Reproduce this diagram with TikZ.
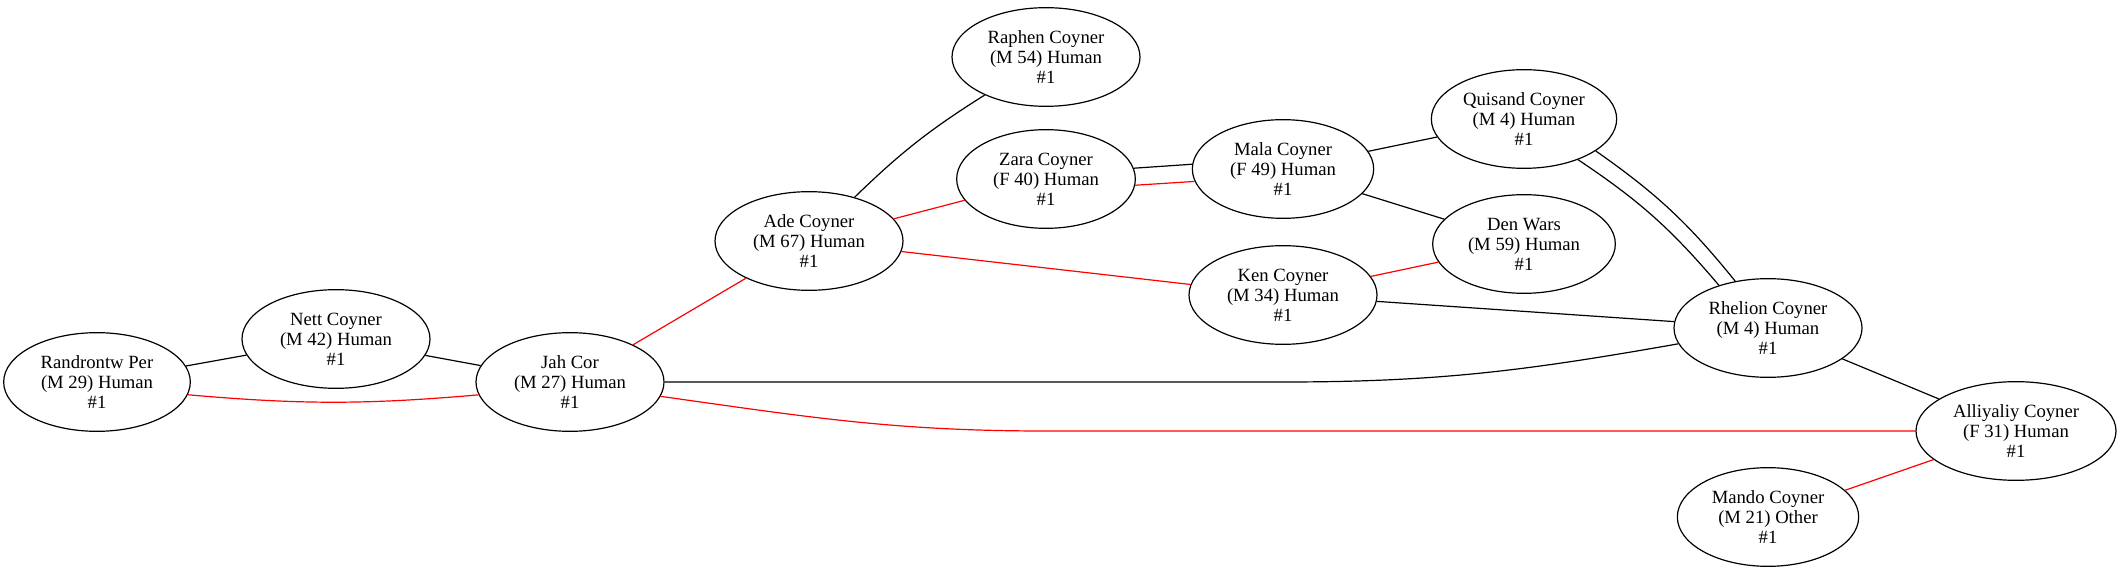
\documentclass[tikz,border=0pt]{standalone}
\usepackage{fontspec}
\setmainfont{Liberation Serif}
\usetikzlibrary{shapes.geometric}
\usetikzlibrary{positioning}

\begin{document}
\begin{tikzpicture}[x=0.75pt,y=0.75pt,
    person/.style={draw,ellipse,line width=0.9pt,minimum width=141pt,minimum height=74pt,inner sep=0pt,align=center,font=\fontsize{14}{15}\selectfont},
    kin/.style={line width=0.9pt},
    mate/.style={red,line width=0.9pt}]
    \useasboundingbox (0,0) rectangle (2124,-573);
    \node[person,minimum width=140pt] (randrontw) at (97,-382) {Randrontw Per\\(M 29) Human\\\#1};
    \node[person] (nett) at (336,-339) {Nett Coyner\\(M 42) Human\\\#1};
    \node[person] (jah) at (570,-382) {Jah Cor\\(M 27) Human\\\#1};
    \node[person] (ade) at (809,-241) {Ade Coyner\\(M 67) Human\\\#1};
    \node[person] (raphen) at (1046,-57) {Raphen Coyner\\(M 54) Human\\\#1};
    \node[person,minimum width=134pt] (zara) at (1046,-179) {Zara Coyner\\(F 40) Human\\\#1};
    \node[person,minimum width=136pt] (mala) at (1283,-169) {Mala Coyner\\(F 49) Human\\\#1};
    \node[person] (ken) at (1283,-295) {Ken Coyner\\(M 34) Human\\\#1};
    \node[person,minimum width=139pt] (quisand) at (1524,-119) {Quisand Coyner\\(M 4) Human\\\#1};
    \node[person,minimum width=137pt] (denwars) at (1524,-244) {Den Wars\\(M 59) Human\\\#1};
    \node[person] (rhelion) at (1768,-328) {Rhelion Coyner\\(M 4) Human\\\#1};
    \node[person,minimum width=150pt] (alliyaliy) at (2016,-431) {Alliyaliy Coyner\\(F 31) Human\\\#1};
    \node[person,minimum width=136pt] (mando) at (1768,-517) {Mando Coyner\\(M 21) Other\\\#1};
    % black links
    \draw[kin] (randrontw) -- (nett);
    \draw[kin] (nett) -- (jah);
    \draw[kin] (ade) to[bend left=6] (raphen);
    \draw[kin] (zara.7) -- (mala.177);
    \draw[kin] (mala) -- (quisand);
    \draw[kin] (mala) -- (denwars);
    \draw[kin] (quisand.-37) to[bend left=8] (rhelion.139);
    \draw[kin] (quisand.-24) to[bend left=8] (rhelion.125);
    \draw[kin] (ken) -- (rhelion);
    \coordinate (jahbend) at (jah.east -| ken.south);
    \draw[kin] (jah.east) -- (jahbend) to[out=0,in=190] (rhelion.190);
    \draw[kin] (rhelion) -- (alliyaliy);
    % red links
    \draw[mate] (randrontw.-8) to[bend right=5] (jah.-172);
    \draw[mate] (jah) -- (ade);
    \draw[mate] (ade) -- (zara);
    \draw[mate] (ade) -- (ken);
    \draw[mate] (zara.-4) -- (mala.-172);
    \draw[mate] (ken) -- (denwars);
    \coordinate (jahflat) at (alliyaliy.west -| raphen.south);
    \draw[mate] (jah.-9) to[out=-8,in=180] (jahflat) -- (alliyaliy.west);
    \draw[mate] (mando) -- (alliyaliy);
\end{tikzpicture}
\end{document}
